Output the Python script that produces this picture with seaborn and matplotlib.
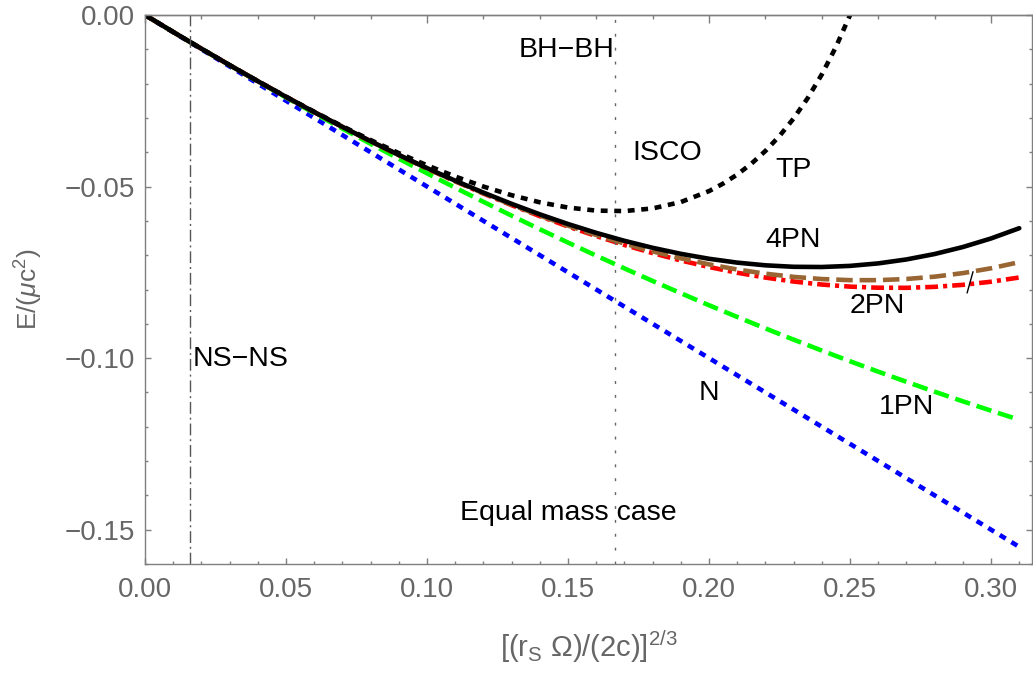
import matplotlib
matplotlib.use("Agg")
import matplotlib.pyplot as plt
import seaborn as sns
import pandas as pd
from matplotlib.ticker import MultipleLocator, FixedLocator

# ---------------- data ----------------
x_grid = [0.00, 0.01, 0.02, 0.03, 0.04, 0.05, 0.06, 0.07, 0.08, 0.09, 0.10,
          0.11, 0.12, 0.13, 0.14, 0.15, 0.16, 0.17, 0.18, 0.19, 0.20,
          0.21, 0.22, 0.23, 0.24, 0.25, 0.26, 0.27, 0.28, 0.29, 0.30, 0.31]

e_newton = [0.0, -0.005, -0.010, -0.015, -0.020, -0.025, -0.030, -0.035, -0.040, -0.045, -0.050,
            -0.055, -0.060, -0.065, -0.070, -0.075, -0.080, -0.085, -0.090, -0.095, -0.100,
            -0.105, -0.110, -0.115, -0.120, -0.125, -0.130, -0.135, -0.140, -0.145, -0.150, -0.155]

e_1pn = [0.0, -0.004961, -0.009846, -0.014653, -0.019383, -0.024036, -0.028613, -0.033111,
         -0.037533, -0.041878, -0.046146, -0.050336, -0.054450, -0.058486, -0.062446, -0.066328,
         -0.070133, -0.073861, -0.077513, -0.081086, -0.084583, -0.088003, -0.091346, -0.094611,
         -0.097800, -0.100911, -0.103946, -0.106903, -0.109783, -0.112586, -0.115313, -0.117961]

e_2pn = [0.0, -0.004960, -0.009835, -0.014616, -0.019294, -0.023862, -0.028312, -0.032634,
         -0.036821, -0.040863, -0.044754, -0.048484, -0.052045, -0.055428, -0.058626, -0.061630,
         -0.064432, -0.067023, -0.069395, -0.071539, -0.073448, -0.075112, -0.076525, -0.077676,
         -0.078558, -0.079163, -0.079481, -0.079506, -0.079228, -0.078639, -0.077730, -0.076495]

e_3pn = [0.0, -0.004960, -0.009835, -0.014615, -0.019293, -0.023859, -0.028306, -0.032622,
         -0.036801, -0.040832, -0.044706, -0.048413, -0.051944, -0.055290, -0.058441, -0.061386,
         -0.064115, -0.066619, -0.068887, -0.070909, -0.072675, -0.074172, -0.075392, -0.076323,
         -0.076954, -0.077275, -0.077272, -0.076937, -0.076257, -0.075220, -0.073815, -0.072031]

e_4pn = [0.0, -0.004960, -0.009835, -0.014615, -0.019292, -0.023856, -0.028298, -0.032607,
         -0.036773, -0.040784, -0.044629, -0.048295, -0.051770, -0.055042, -0.058095, -0.060917,
         -0.063494, -0.065810, -0.067851, -0.069601, -0.071045, -0.072167, -0.072951, -0.073382,
         -0.073442, -0.073115, -0.072386, -0.071238, -0.069655, -0.067620, -0.065119, -0.062136]

x_tp = [0.00, 0.01, 0.02, 0.03, 0.04, 0.05, 0.06, 0.07, 0.08, 0.09, 0.10,
        0.11, 0.12, 0.13, 0.14, 0.15, 0.16, 0.17, 0.18, 0.19, 0.20,
        0.205, 0.21, 0.215, 0.22, 0.225, 0.23, 0.235, 0.24, 0.245, 0.25, 0.255]
e_tp = [0.0, -0.004961, -0.009837, -0.014612, -0.019277, -0.023813, -0.028203, -0.032425,
        -0.036454, -0.040262, -0.043817, -0.047078, -0.050000, -0.052527, -0.054593, -0.056120,
        -0.057009, -0.057143, -0.056371, -0.054509, -0.051317, -0.049130, -0.046486, -0.043334,
        -0.039607, -0.035237, -0.030130, -0.024191, -0.017292, -0.009290, 0.0, 0.010793]

x_ns_ns = 0.0158
x_isco = 1.0 / 6.0

label_texts = ["BH\u2212BH", "ISCO", "TP", "4PN", "2PN", "N", "1PN", "NS\u2212NS", "Equal mass case"]
label_x = [0.1496, 0.185, 0.2298, 0.2298, 0.2596, 0.2000, 0.2699, 0.0337, 0.1500]
label_y = [-0.0102, -0.0402, -0.0451, -0.0655, -0.0848, -0.1102, -0.1142, -0.1002, -0.1451]

pointer_x = [0.2936, 0.2915]
pointer_y = [-0.0748, -0.0810]

x_major = [0.00, 0.05, 0.10, 0.15, 0.20, 0.25, 0.30]
x_tick_labels = ["0.00", "0.05", "0.10", "0.15", "0.20", "0.25", "0.30"]
y_major = [-0.15, -0.10, -0.05, 0.00]
y_tick_labels = ["\u22120.15", "\u22120.10", "\u22120.05", "0.00"]

# ---------------- styling ----------------
sns.set_theme(style="white")
plt.rcParams["font.family"] = ["Liberation Sans", "DejaVu Sans"]
plt.rcParams["mathtext.fontset"] = "custom"
plt.rcParams["mathtext.rm"] = "Liberation Sans"
plt.rcParams["mathtext.it"] = "Liberation Sans:italic"

GRAY = "#7f7f7f"
TICKTXT = "#666666"

fig = plt.figure(figsize=(10.33, 6.75), dpi=100)
ax = fig.add_axes([0.1404, 0.1644, 0.9586 - 0.1404 + 0.0404, 0.9778 - 0.1644])

df = pd.DataFrame({"x": x_grid, "N": e_newton, "1PN": e_1pn, "2PN": e_2pn,
                   "3PN": e_3pn, "4PN": e_4pn})
df_tp = pd.DataFrame({"x": x_tp, "TP": e_tp})

LW = 3.3
common = dict(ax=ax, estimator=None, sort=False, errorbar=None, legend=False)
sns.lineplot(data=df, x="x", y="N", color="#0000ff", linewidth=LW,
             linestyle=(0, (1.5, 1.45)), **common)
sns.lineplot(data=df, x="x", y="1PN", color="#00ff00", linewidth=LW,
             linestyle=(0, (3.4, 1.5)), **common)
sns.lineplot(data=df, x="x", y="2PN", color="#ff0000", linewidth=LW,
             linestyle=(0, (2.8, 1.1, 0.9, 1.1)), **common)
sns.lineplot(data=df, x="x", y="3PN", color="#996633", linewidth=LW,
             linestyle=(0, (3.6, 1.5)), **common)
sns.lineplot(data=df_tp, x="x", y="TP", color="black", linewidth=LW,
             linestyle=(0, (1.5, 1.45)), **common)
sns.lineplot(data=df, x="x", y="4PN", color="black", linewidth=LW,
             linestyle="-", **common)

ax.axvline(x_ns_ns, color="#555555", linewidth=1.0, linestyle=(0, (8.5, 2.8, 1.4, 2.8)))
ax.axvline(x_isco, color="#666666", linewidth=1.0, linestyle=(0, (2.1, 7.9)))
ax.plot(pointer_x, pointer_y, color="black", linewidth=1.0)

for t, lx, ly in zip(label_texts, label_x, label_y):
    ax.text(lx, ly, t, ha="center", va="center", fontsize=20.5, color="black")

ax.set_xlim(0, 0.3145)
ax.set_ylim(-0.16, 0.0)

ax.xaxis.set_major_locator(FixedLocator(x_major))
ax.set_xticklabels(x_tick_labels)
ax.xaxis.set_minor_locator(MultipleLocator(0.01))
ax.yaxis.set_major_locator(FixedLocator(y_major))
ax.set_yticklabels(y_tick_labels)
ax.yaxis.set_minor_locator(MultipleLocator(0.01))

ax.tick_params(axis="both", which="both", direction="in", color=GRAY, width=1.0,
               labelcolor=TICKTXT, labelsize=20)
ax.tick_params(axis="both", which="major", length=4.5)
ax.tick_params(axis="both", which="minor", length=2.3)
ax.tick_params(axis="y", which="both", right=True, left=True, pad=7)
ax.tick_params(axis="x", which="both", bottom=True, top=False, pad=9)

sec = ax.secondary_xaxis("top")
sec.xaxis.set_major_locator(MultipleLocator(0.1))
sec.xaxis.set_minor_locator(MultipleLocator(0.02))
sec.tick_params(which="both", direction="in", color=GRAY, width=1.0, labeltop=False)
sec.tick_params(which="major", length=5.5)
sec.tick_params(which="minor", length=3)
for s in sec.spines.values():
    s.set_color(GRAY)
    s.set_linewidth(1.0)

for s in ax.spines.values():
    s.set_visible(True)
    s.set_color(GRAY)
    s.set_linewidth(1.0)

ax.set_xlabel("[(r$_\\mathrm{S}$ \u03a9)/(2c)]$^{2/3}$", fontsize=21, color=TICKTXT)
ax.set_ylabel("E/($\\mathit{\\mu}$c$^2$)", fontsize=19, color=TICKTXT)
ax.xaxis.set_label_coords(0.5, -0.118)
ax.yaxis.set_label_coords(-0.113, 0.5)

ax.grid(False)
fig.savefig("out.png", dpi=100)
